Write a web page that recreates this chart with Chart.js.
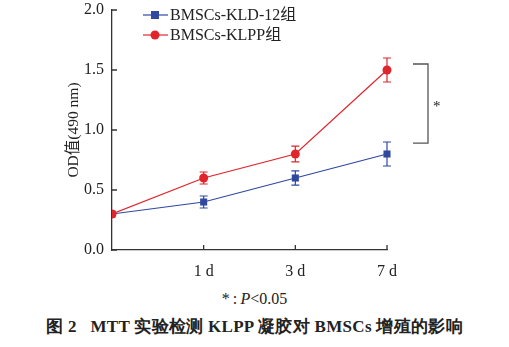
<!DOCTYPE html>
<html>
<head>
<meta charset="utf-8">
<script src="https://cdn.jsdelivr.net/npm/chart.js@4"></script>
<style>
  body{ margin:0; background:#fff; }
  #wrap{ position:relative; width:509px; height:347px; }
  #chart{ position:absolute; left:0; top:0; }
  .note{ position:absolute; left:0; width:509px; text-align:center; font-family:"Liberation Serif", serif; color:#222; }
  #foot{ top:290px; font-size:16px; }
  #caption{ top:315px; font-size:17px; font-weight:bold; letter-spacing:0.3px; }
</style>
</head>
<body>
<div id="wrap">
  <canvas id="chart" width="509" height="285"></canvas>
  <div class="note" id="foot">*&thinsp;:&thinsp;<i>P</i>&lt;0.05</div>
  <div class="note" id="caption">图 2&nbsp;&nbsp;&nbsp;MTT 实验检测 KLPP 凝胶对 BMSCs 增殖的影响</div>
</div>
<script>
// time points (index on the x axis) and their labels
const dayLabels = ['', '1 d', '3 d', '7 d'];
const yTicks = [0, 0.5, 1.0, 1.5, 2.0];

// OD values (490 nm), mean and error
const kldMean = [0.3, 0.4, 0.6, 0.8];
const kldErr = [0.01, 0.05, 0.06, 0.1];
const klppMean = [0.3, 0.6, 0.8, 1.5];
const klppErr = [0.01, 0.05, 0.065, 0.1];

// significance bracket between the 7 d groups
const bracketTop = 1.55, bracketBottom = 0.89;

const BLUE = '#2f48a0';
const RED = '#e0252b';
const AXIS = '#333';
const FONT = '"Liberation Serif", "Noto Sans CJK SC", serif';

const toPts = arr => arr.map((v, i) => ({x: i, y: v}));
// cut markers at the y axis only
const clipLeft = {left: 0, top: false, right: false, bottom: false};

// error bars, inside tick marks, bracket and legend
const extras = {
  id: 'extras',
  afterDatasetsDraw(chart){
    const {ctx, scales:{x, y}} = chart;
    chart.data.datasets.forEach(ds => {
      ctx.save();
      ctx.strokeStyle = ds.borderColor; ctx.lineWidth = 1.2;
      ds.data.forEach((p, i) => {
        const e = ds.err[i];
        const px = x.getPixelForValue(p.x);
        const hi = y.getPixelForValue(p.y + e), lo = y.getPixelForValue(p.y - e);
        if(i === 0) return;
        ctx.beginPath();
        ctx.moveTo(px, hi); ctx.lineTo(px, lo);
        ctx.moveTo(px - 4, hi); ctx.lineTo(px + 4, hi);
        ctx.moveTo(px - 4, lo); ctx.lineTo(px + 4, lo);
        ctx.stroke();
      });
      ctx.restore();
    });
  },
  afterDraw(chart){
    const {ctx, chartArea:a, scales:{x, y}} = chart;
    ctx.save();
    ctx.strokeStyle = AXIS; ctx.lineWidth = 1.3;
    ctx.beginPath();
    yTicks.forEach(v => { const py = y.getPixelForValue(v); ctx.moveTo(a.left, py); ctx.lineTo(a.left + 5, py); });
    for(let i = 1; i < dayLabels.length; i++){ const px = x.getPixelForValue(i); ctx.moveTo(px, a.bottom); ctx.lineTo(px, a.bottom - 5); }
    ctx.stroke();

    // bracket
    const t = y.getPixelForValue(bracketTop), b = y.getPixelForValue(bracketBottom);
    const bx = a.right + 41;
    ctx.strokeStyle = '#555'; ctx.lineWidth = 1.3;
    ctx.beginPath();
    ctx.moveTo(bx - 15, t); ctx.lineTo(bx, t); ctx.lineTo(bx, b); ctx.lineTo(bx - 15, b);
    ctx.stroke();
    ctx.fillStyle = '#222'; ctx.font = '15px ' + FONT;
    ctx.textAlign = 'left'; ctx.textBaseline = 'middle';
    ctx.fillText('*', bx + 5, (t + b) / 2 + 3);

    // legend
    const rows = [
      {label: 'BMSCs-KLD-12组', color: BLUE, shape: 'rect'},
      {label: 'BMSCs-KLPP组', color: RED, shape: 'circle'}
    ];
    rows.forEach((r, i) => {
      const ly = 15 + i * 20;
      ctx.strokeStyle = r.color; ctx.lineWidth = 1.2;
      ctx.beginPath(); ctx.moveTo(143, ly); ctx.lineTo(168, ly); ctx.stroke();
      ctx.fillStyle = r.color;
      if(r.shape === 'rect') ctx.fillRect(151, ly - 4, 8, 8);
      else { ctx.beginPath(); ctx.arc(155, ly, 4.5, 0, Math.PI * 2); ctx.fill(); }
      ctx.fillStyle = '#222'; ctx.font = '16px ' + FONT;
      ctx.textAlign = 'left'; ctx.textBaseline = 'middle';
      ctx.fillText(r.label, 170, ly + 1);
    });
    ctx.restore();
  }
};

new Chart(document.getElementById('chart'), {
  type: 'line',
  data: {
    datasets: [
      {label: 'BMSCs-KLD-12组', data: toPts(kldMean), err: kldErr, borderColor: BLUE, backgroundColor: BLUE,
        borderWidth: 1.2, pointStyle: 'rect', pointRadius: 5, pointBorderWidth: 0, order: 2, clip: clipLeft},
      {label: 'BMSCs-KLPP组', data: toPts(klppMean), err: klppErr, borderColor: RED, backgroundColor: RED,
        borderWidth: 1.2, pointStyle: 'circle', pointRadius: 4.5, pointBorderWidth: 0, order: 1, clip: clipLeft}
    ]
  },
  options: {
    responsive: false,
    animation: false,
    layout: {padding: {top: 10, right: 122, left: 0, bottom: 0}},
    plugins: {legend: {display: false}, tooltip: {enabled: false}},
    scales: {
      x: {
        type: 'linear', min: 0, max: 3,
        grid: {display: false, drawTicks: false},
        border: {color: AXIS, width: 1.3},
        ticks: {stepSize: 1, padding: 12, color: '#222', font: {family: FONT, size: 16},
          callback: v => dayLabels[v] ?? ''},
        afterFit(s){ s.height = 35; s.paddingLeft = 0; s.paddingRight = 0; }
      },
      y: {
        min: 0, max: 2,
        grid: {display: false, drawTicks: false},
        border: {color: AXIS, width: 1.3},
        ticks: {stepSize: 0.5, padding: 8, color: '#222', font: {family: FONT, size: 16},
          callback: v => v.toFixed(1)},
        title: {display: true, text: 'OD值(490 nm)', color: '#222', font: {family: FONT, size: 15.5},
          padding: {top: 65, bottom: 0}},
        afterFit(s){ s.width = 112; s.paddingTop = 0; s.paddingBottom = 0; }
      }
    }
  },
  plugins: [extras]
});
</script>
</body>
</html>
